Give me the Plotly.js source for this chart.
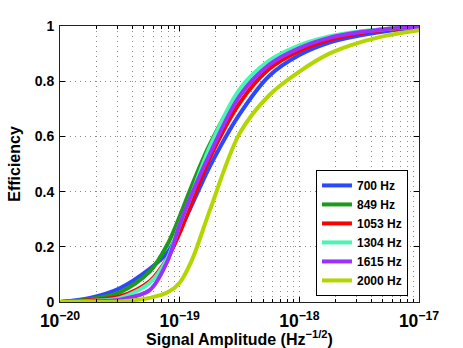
<!DOCTYPE html>
<html>
<head>
<meta charset="utf-8">
<script src="https://cdn.plot.ly/plotly-3.0.1.min.js"></script>
<style>
  html, body { margin:0; padding:0; background:#fff; }
  #chart { width:463px; height:348px; }
</style>
</head>
<body>
<div id="chart"></div>
<script>
(function(){
  // signal amplitude samples (Hz^-1/2)
  const amp = [1e-20, 1.78e-20, 3.16e-20, 5.62e-20, 7.94e-20, 1e-19, 1.26e-19, 1.78e-19,
               3.16e-19, 5.62e-19, 1e-18, 1.78e-18, 3.16e-18, 5.62e-18, 1e-17];

  const freqs = ["700 Hz", "849 Hz", "1053 Hz", "1304 Hz", "1615 Hz", "2000 Hz"];
  const colors = ["#2b48ff", "#1c9a1c", "#ff0000", "#48f5b4", "#9b30ff", "#b4d600"];

  const eff700  = [0, 0.015, 0.05, 0.12, 0.18, 0.26, 0.35, 0.49, 0.68, 0.82, 0.895, 0.94, 0.965, 0.983, 0.995];
  const eff849  = [0, 0.01, 0.035, 0.11, 0.21, 0.31, 0.42, 0.57, 0.76, 0.87, 0.925, 0.96, 0.978, 0.99, 0.998];
  const eff1053 = [0, 0.006, 0.02, 0.075, 0.16, 0.25, 0.36, 0.52, 0.72, 0.845, 0.91, 0.95, 0.973, 0.987, 0.997];
  const eff1304 = [0, 0.004, 0.014, 0.07, 0.16, 0.28, 0.39, 0.56, 0.77, 0.875, 0.93, 0.962, 0.98, 0.99, 0.998];
  const eff1615 = [0, 0.002, 0.008, 0.043, 0.15, 0.28, 0.39, 0.535, 0.745, 0.86, 0.92, 0.957, 0.977, 0.99, 0.997];
  const eff2000 = [0, 0, 0.002, 0.015, 0.035, 0.07, 0.15, 0.33, 0.61, 0.75, 0.835, 0.9, 0.94, 0.967, 0.985];

  const series = [eff700, eff849, eff1053, eff1304, eff1615, eff2000];

  const traces = series.map((y, i) => ({
    type:"scatter", mode:"lines", x:amp, y:y, name:freqs[i],
    line:{color:colors[i], width:4, shape:"spline", smoothing:0.9}
  }));

  const F = "Liberation Sans, Arial, Helvetica, sans-serif";
  const grid = {showgrid:true, gridcolor:"#8a8a8a", griddash:"1px,4px", gridwidth:1};

  const layout = {
    width:463, height:348,
    paper_bgcolor:"#fff", plot_bgcolor:"#fff",
    margin:{l:60, r:44, t:26, b:46},
    font:{family:F, color:"#000", size:14},
    showlegend:true,
    xaxis:{
      type:"log", range:[-20, -17], dtick:1, exponentformat:"power",
      ticks:"inside", ticklen:5, tickcolor:"#000", ticklabelstandoff:4,
      showline:true, linecolor:"#222", linewidth:1, mirror:"ticks",
      zeroline:false, ...grid,
      tickfont:{family:F, size:14, weight:"bold"},
      minor:{dtick:"D1", ticks:"inside", ticklen:3, tickcolor:"#000", showgrid:true,
             gridcolor:"#8a8a8a", griddash:"1px,4px", gridwidth:1},
      title:{text:"Signal Amplitude (Hz<sup>\u22121/2</sup>)", font:{family:F, size:16, weight:"bold"}, standoff:1}
    },
    yaxis:{
      range:[0, 1], dtick:0.2,
      ticks:"inside", ticklen:5, tickcolor:"#000", ticklabelstandoff:2,
      showline:true, linecolor:"#222", linewidth:1, mirror:"ticks",
      zeroline:false, ...grid,
      tickfont:{family:F, size:14, weight:"bold"},
      title:{text:"Efficiency", font:{family:F, size:16, weight:"bold"}, standoff:10}
    },
    legend:{
      x:0.713, y:0.022, xanchor:"left", yanchor:"bottom",
      bgcolor:"#fff", bordercolor:"#000", borderwidth:1,
      font:{family:F, size:12, weight:"bold"}, tracegroupgap:0
    }
  };

  Plotly.newPlot("chart", traces, layout, {displayModeBar:false, staticPlot:true});
})();
</script>
</body>
</html>
